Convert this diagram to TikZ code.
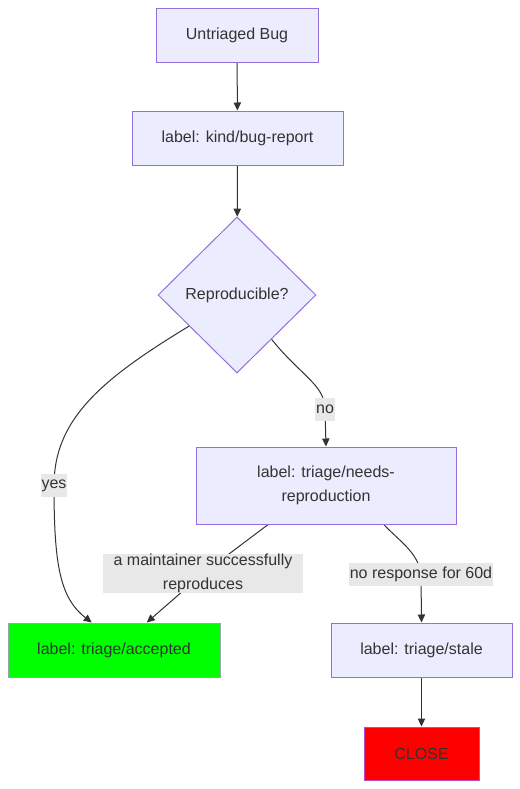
\documentclass[tikz,border=0pt]{standalone}
\usepackage{fontspec}
\setmainfont{Liberation Sans}
\usepackage{tikz}
\usetikzlibrary{arrows.meta}
\usetikzlibrary{backgrounds}
\usetikzlibrary{shapes.geometric}
\definecolor{nodefill}{HTML}{ECECFF}
\definecolor{nodeline}{HTML}{9370DB}
\definecolor{ink}{HTML}{333333}
\definecolor{lblfill}{HTML}{E8E8E8}
\definecolor{greenline}{HTML}{8FAAA8}
\definecolor{redline}{HTML}{B84CC8}
\tikzset{>={Triangle[length=6pt,width=5.5pt]}}
\tikzset{
    flow/.style = {->, draw=ink, line width=0.75pt},
}
\tikzset{
    state/.style={draw=nodeline, fill=nodefill, line width=0.75pt, text=ink, font=\fontsize{12}{18}\selectfont, minimum height=40.5pt, align=center, inner sep=0pt},
    decision/.style={state, diamond, minimum width=118.5pt, minimum height=117pt},
    edgelabel/.style={fill=lblfill, text=ink, font=\fontsize{12}{17.6}\selectfont, inner xsep=0.5pt, inner ysep=0pt, minimum height=17.25pt, align=center}
}

\begin{document}
\begin{tikzpicture}[x=0.75pt,y=-0.75pt]
                \useasboundingbox (0,0) rectangle (520,789);
                \node(untriaged)[state, minimum width=121.5pt] at (237,35) {Untriaged Bug};
                \node(bugreport)[state, minimum width=158.25pt] at (237.5,138) {label: kind/bug-report};
                \node(reproducible)[decision] at (237,295) {Reproducible?};
                \node(needs)[state, minimum width=195pt, minimum height=57.75pt] at (326,485.5) {label: triage/needs-\\reproduction};
                \node(accepted)[state, fill=green, draw=greenline, minimum width=159pt] at (114,650) {label: triage/accepted};
                \node(stale)[state, minimum width=135.75pt] at (421.5,650) {label: triage/stale};
                \node(close)[state, fill=red, draw=redline, minimum width=86.25pt, minimum height=39.75pt] at (421.5,753.5) {CLOSE};
                % edge labels
                \node(no)[edgelabel] at (325,409) {no};
                \node(yes)[edgelabel] at (54,485.5) {yes};
                \node(maintainer)[edgelabel, minimum width=150pt] at (203,573.5) {a maintainer successfully\\reproduces};
                \node(noresponse)[edgelabel] at (421,574) {no response for 60d};
                \begin{scope}[on background layer]
                    \draw[flow] (untriaged) -- (bugreport);
                    \draw[flow] (bugreport) -- (reproducible);
                    \draw[flow] (reproducible.213) .. controls (100,380) and (54,420) .. (yes.center) .. controls (54,565) and (60,598) .. (accepted.129);
                    \draw[flow] (reproducible.308) .. controls (300,375) and (325,385) .. (no.center) -- (needs.north);
                    \draw[flow] (needs.214) -- (maintainer.center) -- (accepted.40);
                    \draw[flow] (needs.326) .. controls (398,540) and (418,552) .. (noresponse.center) -- (stale.north);
                    \draw[flow] (stale) -- (close);
                \end{scope}
            \end{tikzpicture}
\end{document}
